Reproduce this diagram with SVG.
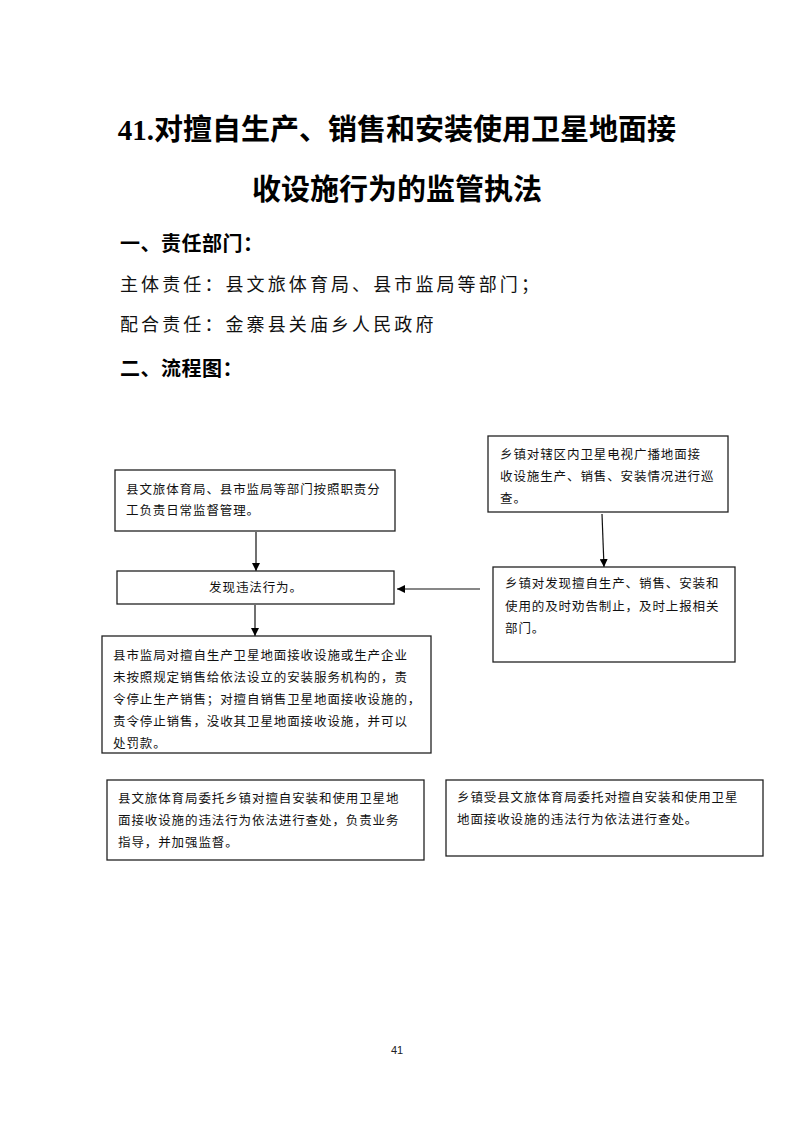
<svg xmlns="http://www.w3.org/2000/svg" width="793" height="1122" viewBox="0 0 793 1122">
<defs>
<marker id="ah" viewBox="0 0 10 10" refX="10" refY="5" markerWidth="8" markerHeight="8" markerUnits="userSpaceOnUse" orient="auto">
<path d="M0,0 L10,5 L0,10 z" fill="#000"/>
</marker>
<style>
.box{fill:#fff;stroke:#222;stroke-width:1.3}
.t{font-family:"Liberation Serif","Noto Sans CJK SC",serif;font-size:12.5px;fill:#111;letter-spacing:0.9px}
.h{font-family:"Liberation Serif","Noto Sans CJK SC",serif;font-size:29px;font-weight:bold;fill:#000}
.s{font-family:"Noto Sans CJK SC",sans-serif;font-size:20px;font-weight:bold;fill:#000;letter-spacing:0.5px}
.r{font-family:"Noto Sans CJK SC",sans-serif;font-size:18px;fill:#111;letter-spacing:3.1px}
.c{stroke:#111;stroke-width:1.2;fill:none;marker-end:url(#ah)}
</style>
</defs>
<rect width="793" height="1122" fill="#fff"/>
<g id="header">
<text class="h" x="397" y="140" text-anchor="middle">41.对擅自生产、销售和安装使用卫星地面接</text>
<text class="h" x="397" y="200" text-anchor="middle">收设施行为的监管执法</text>
<text class="s" x="120" y="251">一、责任部门：</text>
<text class="r" x="120" y="291">主体责任：县文旅体育局、县市监局等部门；</text>
<text class="r" x="120" y="331">配合责任：金寨县关庙乡人民政府</text>
<text class="s" x="120" y="376">二、流程图：</text>
</g>
<g id="connectors">
<line class="c" x1="256" y1="532" x2="256" y2="571"/>
<line class="c" x1="602" y1="514" x2="604" y2="567"/>
<line class="c" x1="480" y1="589" x2="397" y2="589"/>
<line class="c" x1="255" y1="605" x2="255" y2="636"/>
</g>
<g id="nodeA">
<rect class="box" x="115" y="470" width="280" height="61"/>
<text class="t" x="126" y="494">县文旅体育局、县市监局等部门按照职责分</text>
<text class="t" x="126" y="515">工负责日常监督管理。</text>
</g>
<g id="nodeB">
<rect class="box" x="117" y="571" width="277" height="33"/>
<text class="t" x="256" y="592" text-anchor="middle">发现违法行为。</text>
</g>
<g id="nodeC">
<rect class="box" x="488" y="436" width="240" height="76"/>
<text class="t" x="500" y="459">乡镇对辖区内卫星电视广播地面接</text>
<text class="t" x="500" y="481">收设施生产、销售、安装情况进行巡</text>
<text class="t" x="500" y="503">查。</text>
</g>
<g id="nodeD">
<rect class="box" x="493" y="567" width="242" height="95"/>
<text class="t" x="505" y="588">乡镇对发现擅自生产、销售、安装和</text>
<text class="t" x="505" y="611">使用的及时劝告制止，及时上报相关</text>
<text class="t" x="505" y="633">部门。</text>
</g>
<g id="nodeE">
<rect class="box" x="102" y="636" width="329" height="117"/>
<text class="t" x="113" y="660">县市监局对擅自生产卫星地面接收设施或生产企业</text>
<text class="t" x="113" y="682">未按照规定销售给依法设立的安装服务机构的，责</text>
<text class="t" x="113" y="704">令停止生产销售；对擅自销售卫星地面接收设施的，</text>
<text class="t" x="113" y="726">责令停止销售，没收其卫星地面接收设施，并可以</text>
<text class="t" x="113" y="748">处罚款。</text>
</g>
<g id="nodeF">
<rect class="box" x="107" y="780" width="317" height="80"/>
<text class="t" x="118" y="803">县文旅体育局委托乡镇对擅自安装和使用卫星地</text>
<text class="t" x="118" y="825">面接收设施的违法行为依法进行查处，负责业务</text>
<text class="t" x="118" y="847">指导，并加强监督。</text>
</g>
<g id="nodeG">
<rect class="box" x="446" y="780" width="317" height="76"/>
<text class="t" x="457" y="802">乡镇受县文旅体育局委托对擅自安装和使用卫星</text>
<text class="t" x="457" y="824">地面接收设施的违法行为依法进行查处。</text>
</g>
<text x="397" y="1054" text-anchor="middle" style="font-family:'Liberation Sans',sans-serif;font-size:11px;fill:#222">41</text>
</svg>
